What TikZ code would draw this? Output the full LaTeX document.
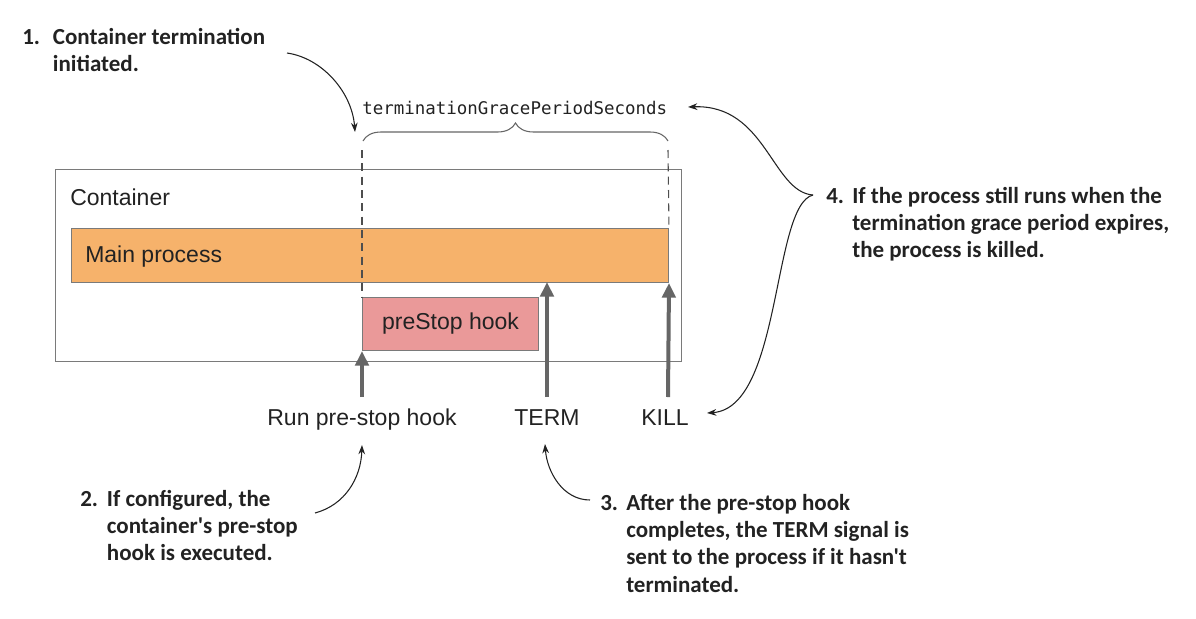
\documentclass[tikz,border=0pt]{standalone}
\usepackage{fontspec}
\setmainfont{Liberation Sans}
\newfontfamily\annfont{Carlito}
\setmonofont{DejaVu Sans Mono}
\usetikzlibrary{arrows.meta,decorations.pathreplacing}
\definecolor{procorange}{HTML}{F6B26B}
\definecolor{hookred}{HTML}{EA9999}
\definecolor{edgegray}{HTML}{7A7A7A}
\definecolor{arrowgray}{HTML}{666666}
\definecolor{inktext}{HTML}{222222}
\begin{document}
\begin{tikzpicture}[x=0.75pt,y=-0.75pt,
  lbl/.style={font=\fontsize{17.25pt}{20pt}\selectfont, text=inktext, inner sep=0pt},
  ann/.style={font=\annfont\bfseries\fontsize{17.25pt}{20.5pt}\selectfont, text=inktext, inner sep=0pt, anchor=base west},
  boxshape/.style={draw=edgegray, line width=0.75pt, anchor=north west, inner sep=0pt},
  sigarrow/.style={draw=arrowgray, line width=3pt, -{Triangle[length=11pt,width=10pt]}},
  callout/.style={draw=inktext, line width=0.8pt, -{Stealth[length=7pt,width=5pt]}},
  dashln/.style={draw=inktext!80, line width=0.8pt, dash pattern=on 6pt off 4pt},
  bracestyle/.style={draw=arrowgray, line width=0.8pt, decorate, decoration={brace, amplitude=13.5pt}}
]
\useasboundingbox (0,0) rectangle (1196,618);

% container and processes
\node[boxshape, minimum width=469.5pt, minimum height=144pt] (cont) at (55,169) {};
\node[lbl, anchor=base west] (contlbl) at (70,205) {Container};
\node[boxshape, fill=procorange, minimum width=447.75pt, minimum height=40.5pt] (main) at (71,228) {};
\node[lbl, anchor=base west] (mainlbl) at (85,262) {Main process};
\node[boxshape, fill=hookred, minimum width=132pt, minimum height=39.75pt] (hook) at (362,297) {};
\node[lbl] (hooklbl) at (hook.center) {preStop hook};

% grace period brace and dashed lines
\node[lbl, anchor=base west, font=\ttfamily\fontsize{13.1pt}{15pt}\selectfont] (grace) at (362,114) {terminationGracePeriodSeconds};
\coordinate (bl) at (363,141);
\coordinate (br) at (668,141);
\draw[bracestyle] (bl) -- (br);
\coordinate (dl) at (362,150);
\coordinate (dr) at (668,150);
\draw[dashln] (dl) -- (hook.north west);
\draw[dashln] (dr) -- (main.north east);

% signal labels and arrows
\node[lbl, anchor=base] (run) at (362,425) {Run pre-stop hook};
\node[lbl, anchor=base] (term) at (547,425) {TERM};
\node[lbl, anchor=base] (kill) at (665,425) {KILL};
\coordinate (runtail) at (362,397);
\coordinate (termtail) at (547,397);
\coordinate (termtip) at (547,282);
\coordinate (killtail) at (668,397);
\draw[sigarrow] (runtail) -- (hook.south west);
\draw[sigarrow] (termtail) -- (termtip);
\draw[sigarrow] (killtail) -- (main.south east);

% annotations
\node[ann] (a1) at (22,44) {\begin{tabular}[t]{@{}p{23pt}@{}l@{}}1.&Container termination\\&initiated.\end{tabular}};
\node[ann] (a2) at (80,506) {\begin{tabular}[t]{@{}p{20pt}@{}l@{}}2.&If configured, the\\&container's pre-stop\\&hook is executed.\end{tabular}};
\node[ann] (a3) at (600,510) {\begin{tabular}[t]{@{}p{19.5pt}@{}l@{}}3.&After the pre-stop hook\\&completes, the TERM signal is\\&sent to the process if it hasn't\\&terminated.\end{tabular}};
\node[ann] (a4) at (826,203) {\begin{tabular}[t]{@{}p{19.5pt}@{}l@{}}4.&If the process still runs when the\\&termination grace period expires,\\&the process is killed.\end{tabular}};

% callout connectors
\coordinate (c1tail) at (287,53);
\coordinate (c1tip) at (355,132);
\draw[callout] (c1tail) .. controls (322,58) and (352,92) .. (c1tip);
\coordinate (c2tail) at (315,513);
\coordinate (c2tip) at (362,445);
\draw[callout] (c2tail) .. controls (345,505) and (361,478) .. (c2tip);
\coordinate (c3tail) at (590,500);
\coordinate (c3tip) at (545,444);
\draw[callout] (c3tail) .. controls (563,500) and (547,472) .. (c3tip);
\coordinate (c4join) at (813,195);
\coordinate (c4up) at (688,107);
\coordinate (c4down) at (707,413);
\draw[callout] (c4join) .. controls (772,192) and (766,104) .. (c4up);
\draw[callout] (c4join) .. controls (772,205) and (782,408) .. (c4down);
\end{tikzpicture}
\end{document}
